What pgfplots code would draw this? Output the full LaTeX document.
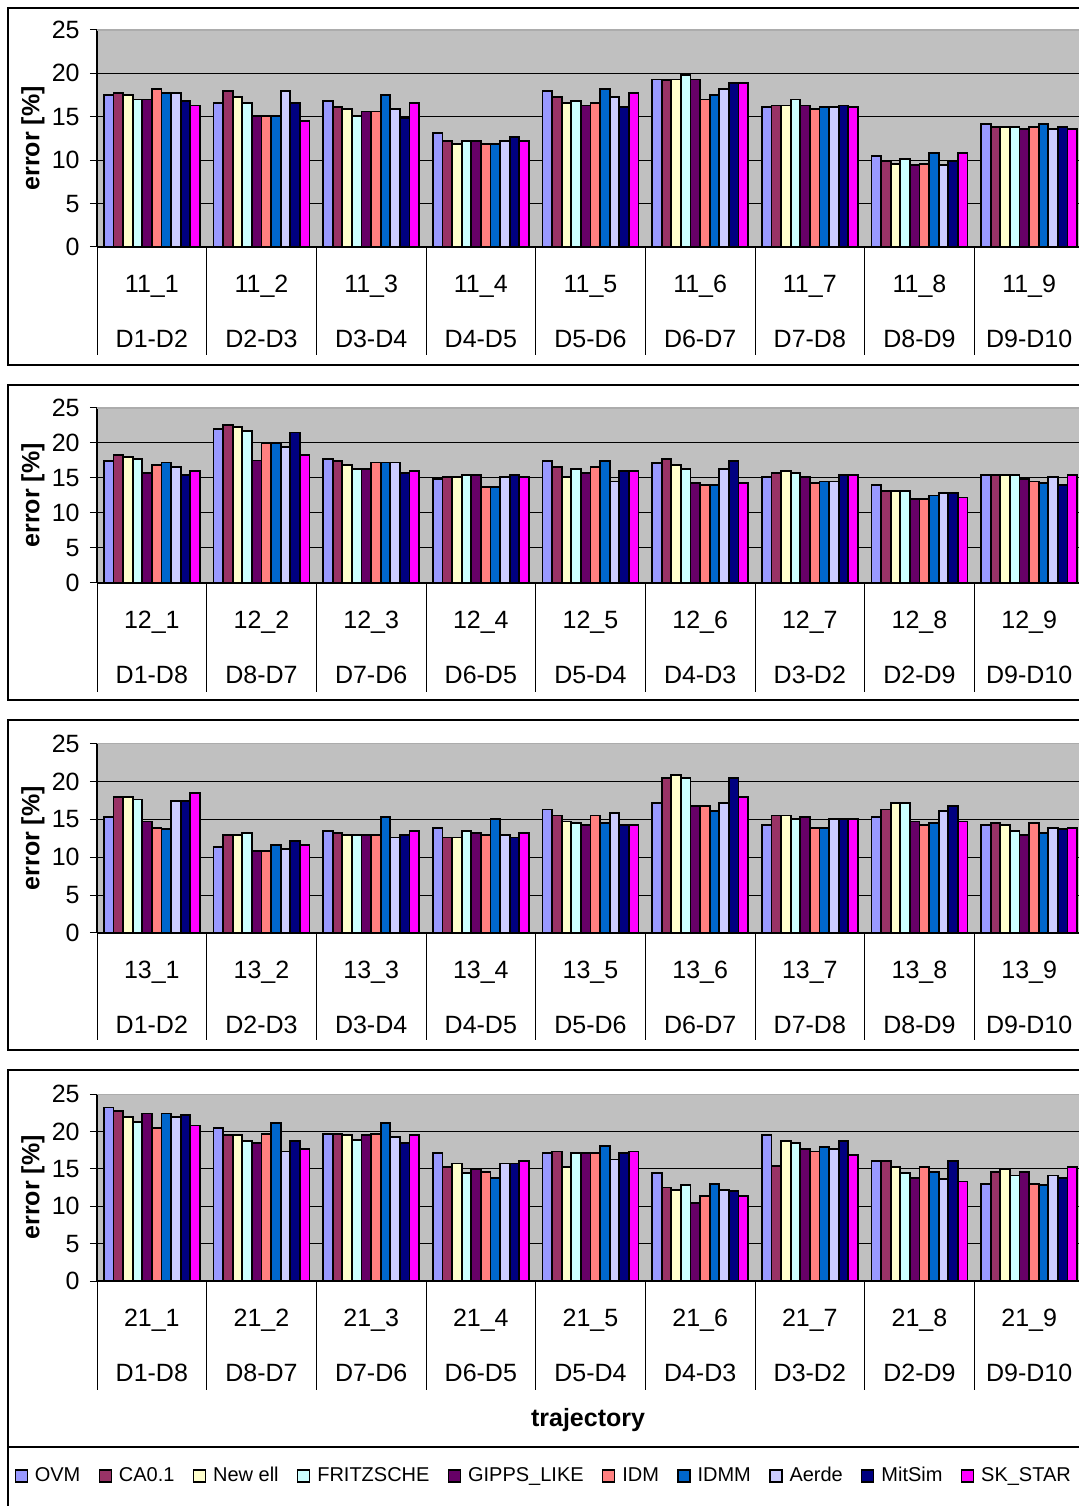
\documentclass[border=0pt]{standalone}
\usepackage{fontspec}
\setmainfont{Liberation Sans}
\usepackage{pgfplots}
\usepackage{pgfplotstable}
\pgfplotsset{compat=1.18}

\definecolor{cOVM}{RGB}{153,153,255}
\definecolor{cCA}{RGB}{153,51,102}
\definecolor{cNew}{RGB}{255,255,204}
\definecolor{cFRI}{RGB}{204,255,255}
\definecolor{cGIP}{RGB}{102,0,102}
\definecolor{cIDM}{RGB}{255,128,128}
\definecolor{cIDMM}{RGB}{0,102,204}
\definecolor{cAer}{RGB}{204,204,255}
\definecolor{cMit}{RGB}{0,0,128}
\definecolor{cSK}{RGB}{255,0,255}
\definecolor{plotgray}{RGB}{192,192,192}

\newcommand\lbl{\fontsize{12.5}{15}\selectfont}

\pgfplotstableread{
x OVM CA New FRI GIP IDM IDMM Aer Mit SK
0 17.5 17.7 17.5 17.0 17.0 18.2 17.7 17.7 16.8 16.3
1 16.6 17.95 17.3 16.6 15.1 15.1 15.1 17.95 16.6 14.5
2 16.8 16.1 15.9 15.1 15.6 15.6 17.5 15.9 14.9 16.6
3 13.1 12.2 11.9 12.2 12.2 11.9 11.9 12.2 12.7 12.2
4 17.95 17.3 16.6 16.8 16.3 16.6 18.2 17.3 16.1 17.7
5 19.3 19.2 19.3 19.8 19.3 17.0 17.5 18.2 18.9 18.9
6 16.1 16.3 16.3 17.0 16.3 15.9 16.1 16.1 16.3 16.1
7 10.5 9.9 9.6 10.1 9.4 9.6 10.8 9.4 9.9 10.8
8 14.2 13.8 13.8 13.8 13.55 13.8 14.2 13.55 13.8 13.55
}\tabA
\pgfplotstableread{
x OVM CA New FRI GIP IDM IDMM Aer Mit SK
0 17.4 18.3 18.0 17.7 15.7 16.8 17.2 16.6 15.4 16.0
1 22.0 22.6 22.3 21.7 17.5 20.0 20.0 19.4 21.5 18.3
2 17.7 17.4 16.8 16.3 16.3 17.2 17.2 17.2 15.7 16.0
3 14.8 15.1 15.1 15.4 15.4 13.7 13.7 15.1 15.4 15.1
4 17.4 16.6 15.1 16.3 15.7 16.6 17.4 14.5 16.0 16.0
5 17.1 17.7 16.8 16.3 14.3 14.0 14.0 16.3 17.4 14.3
6 15.1 15.7 16.0 15.7 15.1 14.3 14.5 14.5 15.4 15.4
7 14.0 13.1 13.1 13.1 12.0 12.0 12.5 12.8 12.8 12.2
8 15.4 15.4 15.4 15.4 14.8 14.5 14.3 15.1 14.0 15.4
}\tabB
\pgfplotstableread{
x OVM CA New FRI GIP IDM IDMM Aer Mit SK
0 15.3 17.9 17.9 17.6 14.7 13.9 13.7 17.4 17.4 18.5
1 11.3 12.9 12.9 13.2 10.8 10.8 11.6 11.05 12.1 11.6
2 13.5 13.2 12.9 12.9 12.9 12.9 15.3 12.6 12.9 13.5
3 13.9 12.6 12.6 13.5 13.2 12.9 15.0 12.9 12.6 13.2
4 16.3 15.5 14.7 14.5 14.2 15.5 14.5 15.8 14.2 14.2
5 17.1 20.5 20.8 20.5 16.8 16.8 16.1 17.1 20.5 17.9
6 14.2 15.5 15.5 15.0 15.3 13.9 13.9 15.0 15.0 15.0
7 15.3 16.3 17.1 17.1 14.7 14.2 14.5 16.1 16.8 14.7
8 14.2 14.5 14.2 13.5 12.9 14.5 13.2 13.9 13.7 13.9
}\tabC
\pgfplotstableread{
x OVM CA New FRI GIP IDM IDMM Aer Mit SK
0 23.2 22.7 21.9 21.3 22.4 20.5 22.4 21.9 22.2 20.8
1 20.5 19.5 19.5 18.7 18.4 19.7 21.1 17.3 18.7 17.6
2 19.7 19.7 19.5 18.9 19.5 19.7 21.1 19.2 18.4 19.5
3 17.1 15.2 15.7 14.4 14.9 14.6 13.8 15.7 15.7 16.0
4 17.1 17.3 15.2 17.1 17.1 17.1 18.1 16.25 17.1 17.3
5 14.4 12.5 12.2 12.8 10.4 11.4 13.0 12.2 12.0 11.4
6 19.5 15.4 18.7 18.4 17.6 17.3 17.9 17.6 18.7 16.8
7 16.0 16.0 15.2 14.4 13.8 15.2 14.6 13.6 16.0 13.3
8 13.0 14.6 14.9 14.1 14.6 13.0 12.8 14.1 13.8 15.2
}\tabD

\pgfplotsset{
  b/.style={fill=#1, draw=black, line width=0.9pt},
  panel/.style={
    anchor=south west,
    scale only axis, width=493.5pt,
    xmin=-0.5, xmax=8.5, ymin=0, ymax=25,
    ybar=0pt, bar width=4.8pt,
    xtick={0,...,8}, ytick={0,5,...,25},
    ymajorgrids, grid style={black, line width=0.5pt},
    axis background/.style={fill=plotgray},
    axis x line*=bottom, axis y line*=left,
    axis line style={black, line width=0.6pt, -},
    tick align=outside, major tick length=3.5pt,
    tick style={black, line width=0.5pt},
    xtick style={draw=none},
    /pgf/number format/assume math mode=true,
    yticklabel style={font=\lbl, anchor=east, inner sep=0pt, xshift=-5pt},
    xticklabel style={font=\lbl, align=center, anchor=north, inner sep=0pt, yshift=-10.5pt},
    ylabel={error [\%]},
    every axis y label/.style={at={(axis description cs:-0.065,0.5)}, rotate=90, anchor=center, font=\lbl\bfseries},
    legend image code/.code={\draw[##1, line width=0.6pt] (0pt,-3pt) rectangle (6pt,3pt);},
  }
}

\newcommand\tenbars[1]{%
  \addplot[b=cOVM] table[x=x,y=OVM]{#1};
  \addplot[b=cCA] table[x=x,y=CA]{#1};
  \addplot[b=cNew] table[x=x,y=New]{#1};
  \addplot[b=cFRI] table[x=x,y=FRI]{#1};
  \addplot[b=cGIP] table[x=x,y=GIP]{#1};
  \addplot[b=cIDM] table[x=x,y=IDM]{#1};
  \addplot[b=cIDMM] table[x=x,y=IDMM]{#1};
  \addplot[b=cAer] table[x=x,y=Aer]{#1};
  \addplot[b=cMit] table[x=x,y=Mit]{#1};
  \addplot[b=cSK] table[x=x,y=SK]{#1};
  \draw[gray!65, line width=0.6pt] (axis cs:-0.5,25) -- (axis cs:8.5,25);
}

\begin{document}
\begin{tikzpicture}
\fill[white] (0pt,0pt) rectangle (539pt,753pt);
\begin{scope}[x=0.5pt,y=0.5pt]
% panel frames
\draw[black, line width=0.6pt] (8,1498) rectangle (1100,1141);
\draw[black, line width=0.6pt] (8,1121) rectangle (1100,806);
\draw[black, line width=0.6pt] (8,786) rectangle (1100,456);
\draw[black, line width=0.6pt] (8,436) rectangle (1100,-24);
\draw[black, line width=0.6pt] (8,59) -- (1100,59);
\end{scope}

% panel 1
\begin{axis}[panel, at={(48.5pt,629.5pt)}, height=108.5pt,
  xticklabels={{11\_1\\[12.5pt]D1-D2},{11\_2\\[12.5pt]D2-D3},{11\_3\\[12.5pt]D3-D4},{11\_4\\[12.5pt]D4-D5},{11\_5\\[12.5pt]D5-D6},{11\_6\\[12.5pt]D6-D7},{11\_7\\[12.5pt]D7-D8},{11\_8\\[12.5pt]D8-D9},{11\_9\\[12.5pt]D9-D10}}]
\tenbars{\tabA}
\end{axis}

% panel 2
\begin{axis}[panel, at={(48.5pt,461.5pt)}, height=87.5pt,
  xticklabels={{12\_1\\[12.5pt]D1-D8},{12\_2\\[12.5pt]D8-D7},{12\_3\\[12.5pt]D7-D6},{12\_4\\[12.5pt]D6-D5},{12\_5\\[12.5pt]D5-D4},{12\_6\\[12.5pt]D4-D3},{12\_7\\[12.5pt]D3-D2},{12\_8\\[12.5pt]D2-D9},{12\_9\\[12.5pt]D9-D10}}]
\tenbars{\tabB}
\end{axis}

% panel 3
\begin{axis}[panel, at={(48.5pt,286.5pt)}, height=94.75pt,
  xticklabels={{13\_1\\[12.5pt]D1-D2},{13\_2\\[12.5pt]D2-D3},{13\_3\\[12.5pt]D3-D4},{13\_4\\[12.5pt]D4-D5},{13\_5\\[12.5pt]D5-D6},{13\_6\\[12.5pt]D6-D7},{13\_7\\[12.5pt]D7-D8},{13\_8\\[12.5pt]D8-D9},{13\_9\\[12.5pt]D9-D10}}]
\tenbars{\tabC}
\end{axis}

% panel 4
\begin{axis}[panel, at={(48.5pt,112.5pt)}, height=93.5pt,
  xticklabels={{21\_1\\[12.5pt]D1-D8},{21\_2\\[12.5pt]D8-D7},{21\_3\\[12.5pt]D7-D6},{21\_4\\[12.5pt]D6-D5},{21\_5\\[12.5pt]D5-D4},{21\_6\\[12.5pt]D4-D3},{21\_7\\[12.5pt]D3-D2},{21\_8\\[12.5pt]D2-D9},{21\_9\\[12.5pt]D9-D10}},
  xlabel={trajectory},
  every axis x label/.style={at={(axis description cs:0.4975,-0.743)}, anchor=center, font=\lbl\bfseries},
  legend columns=-1,
  legend style={at={(axis description cs:-0.090,-1.043)}, anchor=west, draw=none, fill=none,
    font=\fontsize{10}{12}\selectfont, nodes={inner sep=1pt},
    /tikz/every odd column/.append style={column sep=2.5pt},
    /tikz/every even column/.append style={column sep=8.2pt}},
  ]
\tenbars{\tabD}
\legend{OVM,CA0.1,New ell,FRITZSCHE,GIPPS\_LIKE,IDM,IDMM,Aerde,MitSim,SK\_STAR}
\end{axis}

\begin{scope}[x=0.5pt,y=0.5pt]
% category separators
\foreach \k in {0,...,9} {
  \draw[black, line width=0.5pt] ({97+\k*109.67},1259) -- ++(0,-108);
  \draw[black, line width=0.5pt] ({97+\k*109.67},923) -- ++(0,-109);
  \draw[black, line width=0.5pt] ({97+\k*109.67},573) -- ++(0,-107);
  \draw[black, line width=0.5pt] ({97+\k*109.67},225) -- ++(0,-109);
}
\end{scope}
\pgfresetboundingbox
\path[use as bounding box] (0pt,0pt) rectangle (539pt,753pt);
\end{tikzpicture}
\end{document}
